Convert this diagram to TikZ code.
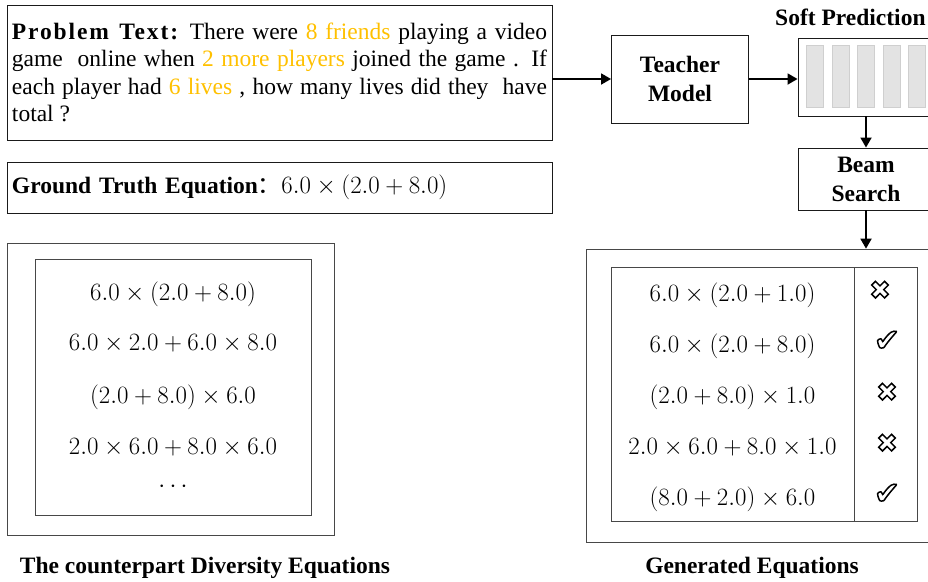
\documentclass[tikz,border=0pt]{standalone}
\usepackage[no-math]{fontspec}
\setmainfont{Liberation Serif}
\newfontfamily\cjk{Noto Sans CJK SC}
\newfontfamily\symb{DejaVu Sans}
\usetikzlibrary{arrows.meta, positioning}
\definecolor{box-border}{HTML}{1A1A1A}
\definecolor{bar-fill}{HTML}{E3E3E3}
\definecolor{bar-border}{HTML}{CFCFCF}
\definecolor{number-color}{HTML}{FFC000}
\tikzset{
  plain-box/.style={
    draw=box-border, line width=0.9pt, inner sep=0pt, align=center,
    font=\fontsize{23.5}{29}\selectfont\bfseries
  },
  table-box/.style={draw=box-border!80, line width=0.7pt, inner sep=0pt},
  bar/.style={draw=bar-border, fill=bar-fill, line width=0.6pt,
    minimum width=17pt, minimum height=62pt, inner sep=0pt},
  eq/.style={font=\fontsize{24.88}{29}\selectfont, inner sep=0pt, anchor=base},
  mark-cross/.style={font=\symb\fontsize{25}{28}\selectfont, inner sep=0pt},
  mark-check/.style={font=\symb\fontsize{31}{33}\selectfont, inner sep=0pt},
  caption/.style={font=\fontsize{23.5}{29}\selectfont\bfseries, anchor=base},
  stream/.style={-{Triangle[length=10pt, width=11pt]}, line width=1.8pt, draw=black}
}
\newcommand{\hl}[1]{\textcolor{number-color}{#1}}
% hollow glyph: stroke the outline only
\newcommand{\hollow}[1]{\special{pdf:literal direct 1 Tr 1.5 w}#1\special{pdf:literal direct 0 Tr}}

\begin{document}
\begin{tikzpicture}[x=1pt, y=-1pt]
  \path[use as bounding box, clip] (0,0) rectangle (928,581);

  \node[plain-box, font=\fontsize{23.5}{27.5}\selectfont, text width=535pt,
        align=justify, inner xsep=5pt, minimum height=135pt] (problem) at (279.5, 72.5)
    {{\bfseries\addfontfeatures{LetterSpace=8}Problem Text:} There were \hl{8 friends} playing a video\linebreak
     game \ online when \hl{2 more players} joined the game . If\linebreak
     each player had \hl{6 lives} , how many lives did they \ have\linebreak
     total ?};
  \node[plain-box, font=\fontsize{23.5}{27.5}\selectfont, text width=535pt,
        align=left, inner xsep=5pt, minimum height=51pt] (truth) at (279.5, 187.5)
    {\raisebox{-2pt}{\textbf{Ground Truth Equation}{\cjk：}{\fontsize{24.88}{29}\selectfont$6.0\times(2.0+8.0)$}}};

  \node[plain-box, minimum width=137pt, minimum height=88pt] (teacher) at (680, 79) {Teacher\\Model};
  \node[plain-box, minimum width=136pt, minimum height=78pt] (soft) at (866, 77) {};
  \node[font=\fontsize{23.5}{29}\selectfont\bfseries, anchor=west, inner sep=0pt] (soft-title) at (775, 17) {Soft Prediction};
  \foreach \i in {0,...,4}
    \node[bar] (bar-\i) at (815.2+25.4*\i, 76) {};
  \node[plain-box, minimum width=136pt, minimum height=62pt] (beam) at (866, 179) {Beam\\Search};

  % left panel
  \node[table-box, minimum width=327pt, minimum height=292pt] (diverse-outer) at (170.5, 389) {};
  \node[table-box, minimum width=276pt, minimum height=256pt] (diverse) at (173, 387) {};
  \node[eq] (d1) at (173, 300) {$6.0\times(2.0+8.0)$};
  \node[eq] (d2) at (173, 350) {$6.0\times2.0+6.0\times8.0$};
  \node[eq] (d3) at (173, 403) {$(2.0+8.0)\times6.0$};
  \node[eq] (d4) at (173, 454) {$2.0\times6.0+8.0\times6.0$};
  \node[eq] (d5) at (173, 492) {$\cdots$};

  % right panel
  \node[table-box, minimum width=359pt, minimum height=293pt] (gen-outer) at (765.5, 395.5) {};
  \node[table-box, minimum width=243pt, minimum height=254pt] (gen) at (732.5, 394) {};
  \node[table-box, minimum width=63pt, minimum height=254pt] (judge) at (885.5, 394) {};
  \node[eq] (g1) at (732.5, 301) {$6.0\times(2.0+1.0)$};
  \node[eq] (g2) at (732.5, 352) {$6.0\times(2.0+8.0)$};
  \node[eq] (g3) at (732.5, 403) {$(2.0+8.0)\times1.0$};
  \node[eq] (g4) at (732.5, 454) {$2.0\times6.0+8.0\times1.0$};
  \node[eq] (g5) at (732.5, 505) {$(8.0+2.0)\times6.0$};
  \node[mark-cross] (j1) at (880, 290) {\hollow{✖}};
  \node[mark-check] (j2) at (887, 341) {\hollow{✔}};
  \node[mark-cross] (j3) at (887, 392) {\hollow{✖}};
  \node[mark-cross] (j4) at (887, 443) {\hollow{✖}};
  \node[mark-check] (j5) at (887, 494) {\hollow{✔}};

  \node[caption] (diverse-caption) at (205, 573) {The counterpart Diversity Equations};
  \node[caption] (gen-caption) at (752, 573) {Generated Equations};

  \draw[stream] (problem.east |- teacher.west) -- (teacher.west);
  \draw[stream] (teacher.east) -- (teacher.east -| soft.west);
  \draw[stream] (soft.south) -- (beam.north);
  \draw[stream] (beam.south) -- (beam.south |- gen-outer.north);
\end{tikzpicture}
\end{document}
